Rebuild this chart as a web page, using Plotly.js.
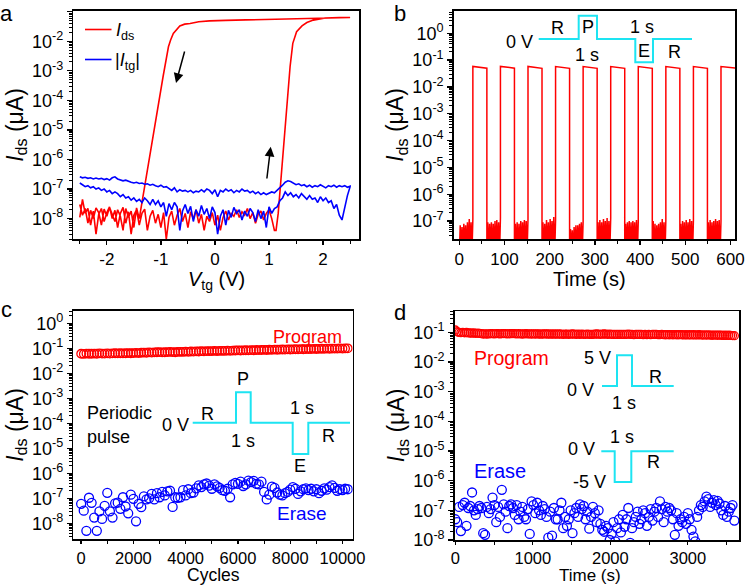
<!DOCTYPE html>
<html><head><meta charset="utf-8">
<script src="https://cdn.plot.ly/plotly-3.0.1.min.js"></script>
<style>html,body{margin:0;padding:0;background:#fff}#chart{width:745px;height:586px}</style>
</head><body><div id="chart"></div>
<script>
// ---------- Panel a : transfer curves ----------
const a_fwdV = [-2.5,-2.45,-2.4,-2.35,-2.3,-2.25,-2.2,-2.15,-2.1,-2.05,-2,-1.95,-1.9,-1.85,-1.8,-1.75,-1.7,-1.65,-1.6,-1.55,-1.5,-1.45,-1.4,-1.35,-1.3,-1.25,-1.2,-1.15,-1.1,-1.05,-1,-0.95,-0.9,-0.85,-0.8,-0.75,-0.7,-0.65,-0.6,-0.55,-0.5,-0.45,-0.4,-0.35,-0.3,-0.25,-0.2,-0.15,-0.1,-0.05,0,0.05,0.1,0.15,0.2,0.25,0.3,0.35,0.4,0.45,0.5,0.55,0.6,0.65,0.7,0.75,0.8,0.85,0.9,0.95,1,1.05,1.1,
  1.13,1.17,1.21,1.25,1.3,1.34,1.39,1.44,1.51,1.61,1.7,1.82,2.04,2.3,2.5];
const a_fwdI = [1.1e-8,4.5e-8,1.5e-8,2.2e-8,6e-9,1.8e-8,3e-9,1.4e-8,2.2e-8,8e-9,
  1.6e-8,2.5e-8,1.0e-8,1.9e-8,5e-9,1.5e-8,2.4e-8,7e-9,1.7e-8,3e-9,
  1.3e-8,2.0e-8,6e-9,1.5e-8,2.1e-8,4e-9,1.2e-8,1.9e-8,7e-9,1.4e-8,
  5e-9,1.6e-8,2e-9,1.1e-8,1.8e-8,6e-9,1.3e-8,2.2e-8,8e-9,1.5e-8,
  5e-9,1.7e-8,1.0e-8,2.0e-8,7e-9,1.4e-8,4e-9,1.2e-8,8e-9,1.6e-8,
  6e-9,1.3e-8,4e-9,1.1e-8,1.8e-8,9e-9,1.5e-8,1.2e-8,2.0e-8,1.1e-8,
  1.7e-8,1.3e-8,2.2e-8,1.0e-8,1.6e-8,7e-9,1.4e-8,1.8e-8,9e-9,1.5e-8,
  2.0e-8,1.0e-8,4e-9,
  4e-9,1.5e-8,1.2e-7,5.6e-7,7.6e-6,1.0e-4,1.4e-3,8.5e-3,0.021,0.033,0.043,0.052,0.061,0.063,0.064];
const a_bwdV = [2.5,2.3,2.0,1.7,1.4,1.0,0.6,0.2,-0.1,-0.3,-0.46,-0.56,-0.65,-0.71,-0.77,-0.82,-0.86,-0.96,-1.05,-1.14,-1.24,-1.32,-1.34,
  -1.38,-1.4,-1.45,-1.5,-1.55,-1.6,-1.65,-1.7,-1.75,-1.8,-1.85,-1.9,-1.95,-2.0,-2.05,-2.1,-2.15,-2.2,-2.25,-2.3,-2.35,-2.4,-2.45,-2.5];
const a_bwdI = [0.064,0.063,0.062,0.06,0.058,0.057,0.054,0.051,0.049,0.046,0.04,0.038,0.033,0.025,0.0185,0.011,0.0065,6.3e-4,6.2e-5,6.0e-6,5.9e-7,7.8e-8,4.2e-8,
  1.5e-8,1.0e-8,2.3e-8,5e-9,1.8e-8,1.1e-8,2.2e-8,4e-9,1.2e-8,2.0e-8,8e-9,1.5e-8,2.4e-8,1.2e-8,2.1e-8,6e-9,1.6e-8,2.3e-8,1.0e-8,1.9e-8,7e-9,2.2e-8,1.3e-8,3e-8];
const a_tgV = [-2.5,-2.45,-2.4,-2.35,-2.3,-2.25,-2.2,-2.15,-2.1,-2.05,-2,-1.95,-1.9,-1.85,-1.8,-1.75,-1.7,-1.65,-1.6,-1.55,-1.5,-1.45,-1.4,-1.35,-1.3,-1.25,-1.2,-1.15,-1.1,-1.05,-1,-0.95,-0.9,-0.85,-0.8,-0.75,-0.7,-0.65,-0.6,-0.55,-0.5,-0.45,-0.4,-0.35,-0.3,-0.25,-0.2,-0.15,-0.1,-0.05,0,0.05,0.1,0.15,0.2,0.25,0.3,0.35,0.4,0.45,0.5,0.55,0.6,0.65,0.7,0.75,0.8,0.85,0.9,0.95,1,1.05,1.1,1.15,1.2,1.25,1.3,1.35,1.4,1.45,1.5,1.55,1.6,1.65,1.7,1.75,1.8,1.85,1.9,1.95,2,2.05,2.1,2.15,2.2,2.25,2.3,2.35,2.4,2.45,2.5];
// |I_tg| sweep up (V increasing)
const a_tgUp = [2.6e-7,2.4e-7,2.5e-7,2.3e-7,2.4e-7,2.2e-7,2.35e-7,2.2e-7,2.3e-7,2.1e-7,
  2.25e-7,2.0e-7,2.4e-7,2.6e-7,2.2e-7,2.0e-7,1.9e-7,2.0e-7,1.8e-7,1.7e-7,
  1.6e-7,1.7e-7,1.55e-7,1.6e-7,1.45e-7,1.5e-7,1.35e-7,1.45e-7,1.3e-7,1.2e-7,
  1.35e-7,1.15e-7,1.2e-7,1.05e-7,9e-8,1.1e-7,8e-8,9.5e-8,8.5e-8,9e-8,
  8e-8,9e-8,7.5e-8,8.5e-8,8e-8,9.5e-8,8e-8,1.0e-7,9e-8,7e-8,
  9.5e-8,5.5e-8,9e-8,8e-8,1.0e-7,8.5e-8,9.5e-8,7.5e-8,9e-8,8e-8,
  1.0e-7,8.5e-8,9e-8,7.5e-8,8.5e-8,7e-8,8e-8,6.5e-8,7.5e-8,6.5e-8,
  7e-8,8e-8,7.5e-8,9e-8,1.1e-7,1.35e-7,1.7e-7,1.9e-7,1.8e-7,1.6e-7,
  1.4e-7,1.5e-7,1.3e-7,1.4e-7,1.2e-7,1.35e-7,1.15e-7,1.3e-7,1.2e-7,1.4e-7,
  1.25e-7,1.1e-7,1.3e-7,1.2e-7,1.35e-7,1.15e-7,1.3e-7,1.2e-7,1.3e-7,1.15e-7,1.25e-7];
// |I_tg| sweep back (V decreasing, from 2.5 to -2.5)
const a_tgDown = [1.2e-7,6e-8,2.5e-8,9e-9,1.3e-8,3e-8,2.2e-8,4e-8,3.5e-8,5e-8,
  4e-8,5.5e-8,3.5e-8,5e-8,4.5e-8,6e-8,4.5e-8,5.5e-8,7e-8,5e-8,
  6.5e-8,5.5e-8,7.5e-8,6e-8,8e-8,5e-8,4e-8,2.5e-8,2.2e-8,1.5e-8,
  2.5e-8,5e-9,1.8e-8,1.0e-8,2.0e-8,8e-9,1.6e-8,2.2e-8,1.2e-8,1.8e-8,
  9e-9,2.0e-8,1.5e-8,2.4e-8,1.1e-8,1.9e-8,6e-9,2.0e-8,1.2e-8,3e-9,
  1.6e-8,2.5e-8,1.0e-8,2.2e-8,1.4e-8,2.8e-8,1.2e-8,2.0e-8,8e-9,2.6e-8,
  1.5e-8,3e-8,1.8e-8,4e-9,2.5e-8,3.5e-8,2.0e-8,3.2e-8,1.2e-8,3.5e-8,
  2.5e-8,4e-8,3e-8,4.5e-8,3e-8,4e-8,5e-8,3.5e-8,4.5e-8,3.8e-8,
  5e-8,4.2e-8,5.5e-8,5e-8,6.5e-8,5.5e-8,7e-8,8e-8,7e-8,9e-8,
  8e-8,1.0e-7,9e-8,1.1e-7,1.0e-7,1.2e-7,1.1e-7,1.3e-7,1.2e-7,1.4e-7,1.6e-7];

// ---------- Panel b : program/erase pulses ----------
const b_time = [0,2,4,6,8,10,12,14,16,18,20,22,24,26,28,30, 30,45,61,
 61,63,65,67,69,71,73,75,77,79,81,83,85,87,89,91, 91,106,122,
 122,124,126,128,130,132,134,136,138,140,142,144,146,148,150,152, 152,167,183,
 183,185,187,189,191,193,195,197,199,201,203,205,207,209,211,213, 213,228,244,
 244,246,248,250,252,254,256,258,260,262,264,266,268,270,272,274, 274,289,305,
 305,307,309,311,313,315,317,319,321,323,325,327,329,331,333,335, 335,350,366,
 366,368,370,372,374,376,378,380,382,384,386,388,390,392,394,396, 396,411,427,
 427,429,431,433,435,437,439,441,443,445,447,449,451,453,455,457, 457,472,488,
 488,490,492,494,496,498,500,502,504,506,508,510,512,514,516,518, 518,533,549,
 549,551,553,555,557,559,561,563,565,567,569,571,573,575,577,579, 579,595,611];
const b_Ids = [5e-9,7e-8,8e-9,6e-8,6e-9,8e-8,9e-9,7e-8,5e-9,9e-8,7e-9,1.2e-7,8e-9,9e-8,6e-9,1.2e-7, 0.058,0.054,0.050,
 5e-9,9e-8,6e-9,8e-8,8e-9,9e-8,5e-9,8e-8,9e-9,1.0e-7,6e-9,1.1e-7,7e-9,9e-8,5e-9,1.3e-7, 0.058,0.054,0.050,
 5e-9,8e-8,7e-9,9e-8,5e-9,8e-8,8e-9,1.0e-7,6e-9,9e-8,9e-9,1.1e-7,5e-9,1.0e-7,7e-9,1.2e-7, 0.058,0.053,0.049,
 6e-9,9e-8,5e-9,8e-8,8e-9,1.1e-7,6e-9,9e-8,5e-9,1.2e-7,7e-9,1.0e-7,9e-9,1.4e-7,6e-9,1.1e-7, 0.057,0.053,0.049,
 5e-9,5e-8,7e-9,4.5e-8,6e-9,6e-8,8e-9,7e-8,5e-9,7e-8,9e-9,8e-8,6e-9,9e-8,7e-9,1.0e-7, 0.057,0.053,0.049,
 6e-9,9e-8,5e-9,1.1e-7,7e-9,9e-8,5e-9,1.2e-7,8e-9,1.0e-7,6e-9,1.3e-7,5e-9,1.0e-7,7e-9,1.3e-7, 0.057,0.053,0.049,
 5e-9,8e-8,8e-9,9e-8,6e-9,1.0e-7,5e-9,9e-8,7e-9,1.0e-7,9e-9,9e-8,5e-9,1.1e-7,6e-9,1.0e-7, 0.057,0.053,0.049,
 6e-9,1.0e-7,5e-9,8e-8,7e-9,7e-8,9e-9,8e-8,5e-9,9e-8,6e-9,1.2e-7,8e-9,9e-8,5e-9,1.1e-7, 0.057,0.053,0.049,
 5e-9,8e-8,6e-9,1.0e-7,8e-9,9e-8,5e-9,1.1e-7,7e-9,9e-8,9e-9,1.2e-7,6e-9,1.0e-7,5e-9,1.1e-7, 0.057,0.053,0.049,
 6e-9,9e-8,5e-9,1.1e-7,7e-9,9e-8,8e-9,1.0e-7,5e-9,1.2e-7,6e-9,1.0e-7,9e-9,1.1e-7,5e-9,1.0e-7, 0.057,0.053,0.050];

// ---------- Panel c : endurance ----------
const c_cycles = [0,100,200,300,400,500,600,700,800,900,1000,1100,1200,1300,1400,1500,1600,1700,1800,1900,2000,2100,2200,2300,2400,2500,2600,2700,2800,2900,3000,3100,3200,3300,3400,3500,3600,3700,3800,3900,4000,4100,4200,4300,4400,4500,4600,4700,4800,4900,5000,5100,5200,5300,5400,5500,5600,5700,5800,5900,6000,6100,6200,6300,6400,6500,6600,6700,6800,6900,7000,7100,7200,7300,7400,7500,7600,7700,7800,7900,8000,8100,8200,8300,8400,8500,8600,8700,8800,8900,9000,9100,9200,9300,9400,9500,9600,9700,9800,9900,10000,10100,10200];
const c_program = [0.060,0.059,0.061,0.060,0.060,0.061,0.060,0.062,0.061,0.061,
 0.062,0.061,0.062,0.063,0.062,0.063,0.062,0.063,0.064,0.063,
 0.064,0.065,0.064,0.066,0.067,0.066,0.068,0.067,0.068,0.069,
 0.070,0.068,0.069,0.070,0.071,0.070,0.069,0.071,0.072,0.071,
 0.073,0.072,0.074,0.073,0.075,0.074,0.076,0.075,0.077,0.076,
 0.077,0.078,0.077,0.078,0.079,0.078,0.080,0.079,0.080,0.081,
 0.082,0.081,0.082,0.083,0.082,0.084,0.083,0.085,0.084,0.085,
 0.086,0.085,0.087,0.086,0.088,0.087,0.088,0.089,0.088,0.090,
 0.089,0.090,0.091,0.090,0.092,0.091,0.092,0.093,0.092,0.094,
 0.093,0.094,0.095,0.094,0.096,0.095,0.096,0.097,0.096,0.098,
 0.097,0.098,0.099];
const c_erase = [6e-8,3.2e-8,5e-9,1.05e-7,6.6e-8,1.7e-8,5e-9,3e-8,1.5e-8,5e-8,
 1.65e-7,3e-8,1.7e-8,6.3e-8,6.7e-8,3.8e-8,1.1e-7,4.7e-8,2.5e-8,1.4e-7,
 9.5e-8,1.2e-8,6e-8,4.4e-8,1.2e-7,9e-8,1.0e-7,1.5e-7,9e-8,1.6e-7,
 1.1e-7,1.8e-7,1.3e-7,1.9e-7,2.0e-7,4.5e-8,1.1e-7,1.05e-7,1.1e-7,2.1e-7,
 1.3e-7,2.3e-7,1.6e-7,1.7e-7,2.5e-7,3.3e-7,2.8e-7,3.6e-7,3.9e-7,3.2e-7,
 2.4e-7,3.6e-7,3.0e-7,2.6e-7,2.1e-7,2.0e-7,2.4e-7,1.1e-7,3.6e-7,4.1e-7,
 3.8e-7,4.6e-7,3.1e-7,3.6e-7,5.1e-7,4.4e-7,5.0e-7,3.8e-7,3.6e-7,4.6e-7,
 1.8e-7,9e-8,1.4e-7,2.9e-7,2.6e-7,1.7e-7,1.4e-7,1.3e-7,1.6e-7,1.8e-7,
 2.2e-7,2.8e-7,2.4e-7,1.5e-7,1.9e-7,2.3e-7,2.5e-7,2.1e-7,2.4e-7,1.9e-7,
 2.3e-7,1.6e-7,2.0e-7,2.5e-7,2.2e-7,2.8e-7,3.3e-7,2.6e-7,2.0e-7,2.3e-7,
 2.1e-7,2.4e-7,2.3e-7];

// ---------- Panel d : retention ----------
const d_time = [0,24,48,72,96,120,144,168,192,216,240,264,288,312,336,360,384,408,432,456,480,504,528,552,576,600,624,648,672,696,720,744,768,792,816,840,864,888,912,936,960,984,1008,1032,1056,1080,1104,1128,1152,1176,1200,1224,1248,1272,1296,1320,1344,1368,1392,1416,1440,1464,1488,1512,1536,1560,1584,1608,1632,1656,1680,1704,1728,1752,1776,1800,1824,1848,1872,1896,1920,1944,1968,1992,2016,2040,2064,2088,2112,2136,2160,2184,2208,2232,2256,2280,2304,2328,2352,2376,2400,2424,2448,2472,2496,2520,2544,2568,2592,2616,2640,2664,2688,2712,2736,2760,2784,2808,2832,2856,2880,2904,2928,2952,2976,3000,3024,3048,3072,3096,3120,3144,3168,3192,3216,3240,3264,3288,3312,3336,3360,3384,3408,3432,3456,3480,3504,3528,3552,3576,3600];
const d_program = [0.12,0.105,0.1,0.098,0.1,0.097,0.099,0.096,0.095,0.094,
 0.095,0.093,0.094,0.092,0.09,0.088,0.089,0.088,0.089,0.09,
 0.09,0.089,0.091,0.09,0.089,0.09,0.091,0.09,0.089,0.09,
 0.09,0.091,0.09,0.089,0.09,0.089,0.088,0.089,0.09,0.089,
 0.089,0.088,0.089,0.088,0.089,0.088,0.087,0.088,0.089,0.088,
 0.088,0.087,0.088,0.087,0.088,0.087,0.088,0.087,0.086,0.087,
 0.087,0.086,0.087,0.088,0.087,0.086,0.087,0.086,0.087,0.086,
 0.086,0.087,0.086,0.085,0.086,0.087,0.088,0.087,0.086,0.087,
 0.088,0.087,0.086,0.087,0.086,0.085,0.086,0.085,0.086,0.085,
 0.086,0.085,0.086,0.087,0.086,0.085,0.084,0.085,0.086,0.085,
 0.085,0.084,0.085,0.084,0.085,0.084,0.085,0.086,0.085,0.084,
 0.084,0.085,0.084,0.083,0.084,0.083,0.084,0.083,0.084,0.083,
 0.083,0.084,0.083,0.082,0.083,0.082,0.083,0.082,0.083,0.082,
 0.082,0.083,0.082,0.081,0.082,0.081,0.082,0.081,0.080,0.081,
 0.081,0.080,0.081,0.080,0.079,0.080,0.079,0.080,0.079,0.078,
 0.077];
const d_erase = [5e-8,4e-8,1.3e-7,2e-8,1.5e-7,1.8e-7,3e-8,1.2e-7,1.4e-7,4e-7,
 1.0e-7,7e-8,1.1e-7,1.4e-7,1.2e-7,1.7e-8,1.5e-8,1.3e-7,8e-8,1.1e-7,
 2.7e-7,1.5e-7,4e-8,1.3e-7,6e-8,4.9e-7,1.6e-7,9e-8,2.5e-8,1.4e-7,
 1.6e-7,1.2e-7,7e-8,1.5e-7,5e-8,9e-8,1.3e-7,6e-8,5e-8,1.1e-7,
 1.6e-8,2e-7,1.5e-7,8e-8,1.8e-7,1.0e-7,7e-8,1.4e-7,1.1e-7,6e-8,
 1.2e-8,9e-8,1.4e-8,1.2e-7,5e-8,5e-8,1.0e-7,1.8e-7,2.5e-8,6e-8,
 3e-8,5e-8,1.0e-7,1.7e-8,8e-8,1.2e-7,6e-8,1.6e-7,1.1e-7,1.4e-7,
 5e-8,9e-8,2.4e-8,6e-8,1.3e-7,8e-8,4e-8,1.0e-7,3.5e-8,2.2e-8,
 1.9e-8,3e-8,2.5e-8,1.0e-8,1.6e-8,4e-8,9e-9,2.5e-8,5e-8,1.8e-8,
 7e-8,2.8e-8,5e-8,1.2e-7,8e-9,2.5e-8,4e-8,6e-8,9e-8,3.5e-8,
 5e-8,1.0e-7,8e-8,3e-8,6e-8,1.1e-7,4.5e-8,9e-8,1.2e-7,6e-8,
 2e-7,1.1e-7,4e-8,1.3e-7,9e-8,1.2e-7,1.0e-7,5e-8,1.5e-8,8e-8,
 3e-8,5e-8,4e-8,6e-8,3.5e-8,8e-8,5e-8,2.2e-8,1.3e-8,9e-9,
 6e-8,1.0e-7,1.5e-7,1.3e-7,2.0e-7,2.9e-7,2.4e-7,1.3e-7,1.8e-7,2.2e-7,
 1.5e-7,2.1e-7,1.7e-7,1.0e-7,7e-8,1.4e-7,6e-8,9e-8,1.2e-7,1.5e-7,
 4.5e-8];

// ---------- styling helpers ----------
const W = 745, H = 586;
const FONT = 'Liberation Sans, Arial, sans-serif';
const RED = '#ff0000', BLUE = '#0000ff', CYAN = '#1de4f2';
const px = x => x / W, py = y => 1 - y / H;

function logTicks(lo, hi) {
  const vals = [], text = [], minor = [];
  for (let e = lo; e <= hi; e++) { vals.push(Math.pow(10, e)); text.push('10<sup>' + e + '</sup>'); }
  for (let e = lo - 1; e <= hi; e++) for (let m = 2; m <= 9; m++) minor.push(m * Math.pow(10, e));
  return {vals, text, minor};
}
const baseAx = {
  showline: true, linecolor: '#000', linewidth: 1.5, mirror: true,
  ticks: 'outside', tickwidth: 1.3, tickcolor: '#000',
  showgrid: false, zeroline: false
};
function yAx(dom, range, lo, hi, xa, titleText) {
  const t = logTicks(lo, hi);
  return Object.assign({}, baseAx, {
    type: 'log', domain: dom, range: range, anchor: xa, ticklen: 5,
    tickfont: {family: FONT, size: 18, color: '#000'},
    tickmode: 'array', tickvals: t.vals, ticktext: t.text,
    minor: {tickmode: 'array', tickvals: t.minor, ticks: 'outside', ticklen: 3, tickwidth: 1, tickcolor: '#000'},
    title: {text: titleText, font: {family: FONT, size: 23, color: '#000'}, standoff: 2}
  });
}
function xAx(dom, range, vals, text, minorVals, ya, tl, fs) {
  return Object.assign({}, baseAx, {
    domain: dom, range: range, anchor: ya, ticklen: tl,
    tickfont: {family: FONT, size: fs, color: '#000'},
    tickmode: 'array', tickvals: vals, ticktext: text,
    minor: {tickmode: 'array', tickvals: minorVals, ticks: 'outside', ticklen: 3, tickwidth: 1, tickcolor: '#000'}
  });
}
const IDS = '<i>I</i><sub>ds</sub> (μA)';

const traces = [
  {x: a_fwdV.concat(a_bwdV), y: a_fwdI.concat(a_bwdI), xaxis: 'x', yaxis: 'y', mode: 'lines', line: {color: RED, width: 1.6}},
  {x: a_tgV.concat(a_tgV.slice().reverse()), y: a_tgUp.concat(a_tgDown), xaxis: 'x', yaxis: 'y', mode: 'lines', line: {color: BLUE, width: 1.6}},
  {x: b_time, y: b_Ids, xaxis: 'x2', yaxis: 'y2', mode: 'lines', line: {color: RED, width: 1.5}},
  {x: c_cycles, y: c_program, xaxis: 'x3', yaxis: 'y3', mode: 'markers', marker: {symbol: 'circle-open', size: 8.5, color: RED, line: {width: 1.3}}},
  {x: c_cycles, y: c_erase, xaxis: 'x3', yaxis: 'y3', mode: 'markers', marker: {symbol: 'circle-open', size: 9, color: BLUE, line: {width: 1.3}}},
  {x: d_time, y: d_program, xaxis: 'x4', yaxis: 'y4', mode: 'markers', marker: {symbol: 'circle-open', size: 8, color: RED, line: {width: 1.3}}},
  {x: d_time, y: d_erase, xaxis: 'x4', yaxis: 'y4', mode: 'markers', marker: {symbol: 'circle-open', size: 9, color: BLUE, line: {width: 1.3}}}
];

function path(pts) {
  return pts.map((p, i) => (i ? 'L' : 'M') + px(p[0]).toFixed(5) + ',' + py(p[1]).toFixed(5)).join(' ');
}
function pulse(pts) {
  return {type: 'path', xref: 'paper', yref: 'paper', path: path(pts), line: {color: CYAN, width: 2}};
}
function seg(x0, y0, x1, y1, color) {
  return {type: 'line', xref: 'paper', yref: 'paper', x0: px(x0), y0: py(y0), x1: px(x1), y1: py(y1), line: {color: color, width: 1.6}};
}
const shapes = [
  pulse([[538.7,39],[578.7,39],[578.7,15.7],[597,15.7],[597,39],[635.3,39],[635.3,62.3],[653,62.3],[653,39],[692,39]]),
  pulse([[192.7,422.7],[236,422.7],[236,392.3],[250.7,392.3],[250.7,422.7],[292.7,422.7],[292.7,454],[308.3,454],[308.3,422.7],[350,422.7]]),
  pulse([[602,386],[617,386],[617,355.3],[632,355.3],[632,386],[673.7,386]]),
  pulse([[601.3,451.3],[614.7,451.3],[614.7,482],[631.3,482],[631.3,451.3],[673.7,451.3]]),
  seg(85, 29.5, 111.5, 29.5, RED),
  seg(85, 59.5, 111.5, 59.5, BLUE)
];

function lab(text, x, y, o) {
  o = o || {};
  return {text: text, xref: 'paper', yref: 'paper', x: px(x), y: py(y), showarrow: false,
    xanchor: o.xa || 'center', yanchor: o.ya || 'middle', borderpad: 0,
    font: {family: FONT, size: o.size || 18, color: o.color || '#000'}};
}
function arrow(hx, hy, tx, ty) {
  return {text: '', xref: 'paper', yref: 'paper', x: px(hx), y: py(hy), ax: tx - hx, ay: ty - hy,
    showarrow: true, arrowhead: 2, arrowsize: 1.3, arrowwidth: 1.5, arrowcolor: '#000'};
}
const annotations = [
  lab('a', 7, 0, {size: 22, ya: 'top'}), lab('b', 400, 0, {size: 22, ya: 'top'}),
  lab('c', 6, 296, {size: 22, ya: 'top'}), lab('d', 400, 299, {size: 22, ya: 'top'}),
  // x-axis titles
  lab('<i>V</i><sub>tg</sub> (V)', 216, 267, {size: 20, ya: 'top'}),
  lab('Time (s)', 589, 267, {size: 20, ya: 'top'}),
  lab('Cycles', 213, 586, {size: 17.5, ya: 'bottom'}),
  lab('Time (s)', 589.5, 586, {size: 17, ya: 'bottom'}),
  // legend of panel a
  lab('<i>I</i><sub>ds</sub>', 115, 31, {xa: 'left'}),
  lab('|<i>I</i><sub>tg</sub>|', 114, 61, {xa: 'left'}),
  arrow(176, 83, 185, 50), arrow(270.7, 146.7, 266.7, 180),
  // panel b inset
  lab('0 V', 519, 42), lab('R', 557, 28), lab('P', 588, 27), lab('1 s', 642, 27),
  lab('1 s', 587, 55), lab('E', 644, 51), lab('R', 674, 52),
  // panel c inset
  lab('Program', 307.5, 337, {color: RED}), lab('Erase', 302, 513, {color: BLUE, size: 19}),
  lab('Periodic', 86, 413, {xa: 'left'}), lab('pulse', 86, 437, {xa: 'left'}),
  lab('0 V', 175, 425), lab('R', 208, 414), lab('P', 243, 379), lab('1 s', 302, 408),
  lab('1 s', 243, 441), lab('E', 300, 466), lab('R', 328, 436),
  // panel d inset
  lab('Program', 511.5, 358, {color: RED, size: 19.5}), lab('Erase', 500, 471, {color: BLUE, size: 20}),
  lab('5 V', 597, 358), lab('0 V', 580, 390), lab('R', 655, 377), lab('1 s', 624, 403),
  lab('1 s', 622, 437), lab('0 V', 581, 449), lab('R', 653, 462), lab('-5 V', 589, 482)
];

const layout = {
  width: W, height: H, margin: {l: 0, r: 0, t: 0, b: 0},
  paper_bgcolor: '#fff', plot_bgcolor: 'rgba(0,0,0,0)', showlegend: false,
  font: {family: FONT, color: '#000'},
  xaxis: xAx([73.3/W, 359.3/W], [-2.62, 2.67], [-2,-1,0,1,2], ['-2','-1','0','1','2'], [-2.5,-1.5,-0.5,0.5,1.5,2.5], 'y', 4, 17),
  yaxis: yAx([1-239.3/H, 1-10.7/H], [-8.70, -0.966], -8, -1, 'x', IDS),
  xaxis2: xAx([453.7/W, 735/W], [-12.4, 610], [0,100,200,300,400,500,600], ['0','100','200','300','400','500','600'], [50,150,250,350,450,550], 'y2', 4, 17),
  yaxis2: yAx([1-239.3/H, 1-10.7/H], [-7.68, 0.84], -7, 0, 'x2', IDS),
  xaxis3: xAx([73.3/W, 352.7/W], [-300, 10390], [0,2000,4000,6000,8000,10000], ['0','2000','4000','6000','8000','10000'], [1000,3000,5000,7000,9000], 'y3', 3, 16.5),
  yaxis3: yAx([1-539.3/H, 1-310.7/H], [-8.64, 0.5], -8, 0, 'x3', IDS),
  xaxis4: xAx([454.7/W, 739/W], [-8, 3660], [0,1000,2000,3000], ['0','1000','2000','3000'], [500,1500,2500,3500], 'y4', 3, 16.5),
  yaxis4: yAx([1-540/H, 1-311/H], [-8.0, -0.28], -8, -1, 'x4', IDS),
  shapes: shapes, annotations: annotations
};
Plotly.newPlot('chart', traces, layout, {displayModeBar: false, staticPlot: true});
</script></body></html>
